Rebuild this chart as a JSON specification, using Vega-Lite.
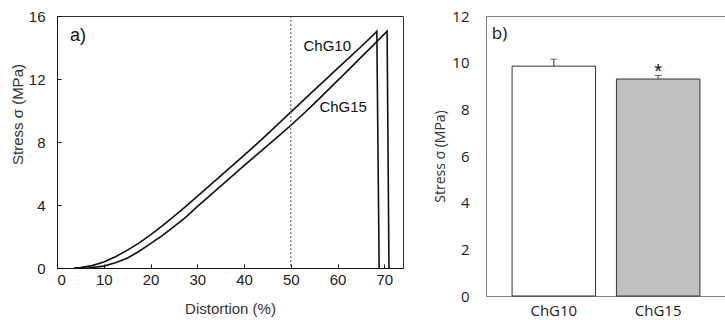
{
  "$schema": "https://vega.github.io/schema/vega-lite/v6.json",
  "background": "white",
  "padding": {"left": 9, "top": 8, "right": 0, "bottom": 0},
  "spacing": 29,
  "datasets": {
    "curves": [
      {"sample": "ChG10", "strain": 3.6, "stress": 0},
      {"sample": "ChG10", "strain": 5, "stress": 0.03},
      {"sample": "ChG10", "strain": 7.5, "stress": 0.15},
      {"sample": "ChG10", "strain": 10, "stress": 0.38},
      {"sample": "ChG10", "strain": 12.5, "stress": 0.72},
      {"sample": "ChG10", "strain": 15, "stress": 1.12},
      {"sample": "ChG10", "strain": 17.5, "stress": 1.58},
      {"sample": "ChG10", "strain": 20, "stress": 2.1},
      {"sample": "ChG10", "strain": 22.5, "stress": 2.68},
      {"sample": "ChG10", "strain": 25, "stress": 3.28},
      {"sample": "ChG10", "strain": 27.5, "stress": 3.9},
      {"sample": "ChG10", "strain": 30, "stress": 4.55},
      {"sample": "ChG10", "strain": 32.5, "stress": 5.2},
      {"sample": "ChG10", "strain": 35, "stress": 5.85},
      {"sample": "ChG10", "strain": 37.5, "stress": 6.5},
      {"sample": "ChG10", "strain": 40, "stress": 7.15},
      {"sample": "ChG10", "strain": 42.5, "stress": 7.82},
      {"sample": "ChG10", "strain": 45, "stress": 8.5},
      {"sample": "ChG10", "strain": 47.5, "stress": 9.2},
      {"sample": "ChG10", "strain": 50, "stress": 9.9},
      {"sample": "ChG10", "strain": 52.5, "stress": 10.6},
      {"sample": "ChG10", "strain": 55, "stress": 11.29},
      {"sample": "ChG10", "strain": 57.5, "stress": 11.98},
      {"sample": "ChG10", "strain": 60, "stress": 12.67},
      {"sample": "ChG10", "strain": 62.5, "stress": 13.36},
      {"sample": "ChG10", "strain": 65, "stress": 14.05},
      {"sample": "ChG10", "strain": 67.5, "stress": 14.75},
      {"sample": "ChG10", "strain": 68.4, "stress": 15.03},
      {"sample": "ChG10", "strain": 68.9, "stress": 0},
      {"sample": "ChG15", "strain": 4.5, "stress": 0},
      {"sample": "ChG15", "strain": 7, "stress": 0.02},
      {"sample": "ChG15", "strain": 10, "stress": 0.12},
      {"sample": "ChG15", "strain": 12.5, "stress": 0.33},
      {"sample": "ChG15", "strain": 15, "stress": 0.62},
      {"sample": "ChG15", "strain": 17.5, "stress": 1.05},
      {"sample": "ChG15", "strain": 20, "stress": 1.55},
      {"sample": "ChG15", "strain": 22.5, "stress": 2.05},
      {"sample": "ChG15", "strain": 25, "stress": 2.62},
      {"sample": "ChG15", "strain": 27.5, "stress": 3.22},
      {"sample": "ChG15", "strain": 30, "stress": 3.9},
      {"sample": "ChG15", "strain": 32.5, "stress": 4.55},
      {"sample": "ChG15", "strain": 35, "stress": 5.2},
      {"sample": "ChG15", "strain": 37.5, "stress": 5.85},
      {"sample": "ChG15", "strain": 40, "stress": 6.5},
      {"sample": "ChG15", "strain": 42.5, "stress": 7.13},
      {"sample": "ChG15", "strain": 45, "stress": 7.77},
      {"sample": "ChG15", "strain": 47.5, "stress": 8.4},
      {"sample": "ChG15", "strain": 50, "stress": 9.05},
      {"sample": "ChG15", "strain": 52.5, "stress": 9.73},
      {"sample": "ChG15", "strain": 55, "stress": 10.44},
      {"sample": "ChG15", "strain": 57.5, "stress": 11.17},
      {"sample": "ChG15", "strain": 60, "stress": 11.9},
      {"sample": "ChG15", "strain": 62.5, "stress": 12.63},
      {"sample": "ChG15", "strain": 65, "stress": 13.37},
      {"sample": "ChG15", "strain": 67.5, "stress": 14.1},
      {"sample": "ChG15", "strain": 70.6, "stress": 15.03},
      {"sample": "ChG15", "strain": 71.0, "stress": 0}
    ],
    "curveLabels": [
      {"text": "ChG10", "strain": 57.8, "stress": 14.1},
      {"text": "ChG15", "strain": 61.2, "stress": 10.2}
    ],
    "bars": [
      {"sample": "ChG10", "stress": 9.85, "upper": 10.15, "mark": ""},
      {"sample": "ChG15", "stress": 9.3, "upper": 9.45, "mark": "*"}
    ]
  },
  "hconcat": [
    {
      "width": 346,
      "height": 252,
      "view": {"stroke": "#333333", "strokeWidth": 1},
      "layer": [
        {
          "data": {"name": "curves"},
          "mark": {"type": "line", "color": "#111111", "strokeWidth": 1.6},
          "encoding": {
            "x": {
              "field": "strain", "type": "quantitative",
              "scale": {"domain": [0, 74], "nice": false},
              "axis": {
                "title": "Distortion (%)",
                "values": [0, 10, 20, 30, 40, 50, 60, 70],
                "tickSize": -4,
                "labelPadding": 8,
                "titlePadding": 14
              }
            },
            "y": {
              "field": "stress", "type": "quantitative",
              "scale": {"domain": [0, 16], "nice": false},
              "axis": {
                "title": "Stress σ (MPa)",
                "values": [0, 4, 8, 12, 16],
                "tickSize": -4,
                "labelPadding": 16,
                "titlePadding": 3,
                "titleY": 98
              }
            },
            "detail": {"field": "sample"}
          }
        },
        {
          "data": {"values": [{"strain": 50}]},
          "mark": {"type": "rule", "color": "#555555", "strokeDash": [2, 2], "strokeWidth": 1},
          "encoding": {"x": {"field": "strain", "type": "quantitative"}}
        },
        {
          "data": {"name": "curveLabels"},
          "mark": {"type": "text", "font": "Liberation Sans", "fontSize": 15, "color": "#111111"},
          "encoding": {
            "x": {"field": "strain", "type": "quantitative"},
            "y": {"field": "stress", "type": "quantitative"},
            "text": {"field": "text"}
          }
        },
        {
          "data": {"values": [{"text": "a)", "strain": 2.8, "stress": 14.7}]},
          "mark": {"type": "text", "font": "Liberation Sans", "fontSize": 18, "align": "left", "color": "#111111"},
          "encoding": {
            "x": {"field": "strain", "type": "quantitative"},
            "y": {"field": "stress", "type": "quantitative"},
            "text": {"field": "text"}
          }
        }
      ]
    },
    {
      "width": 240,
      "height": 280,
      "view": {"stroke": "#808080", "strokeWidth": 1},
      "data": {"name": "bars"},
      "encoding": {
        "x": {
          "field": "sample", "type": "nominal",
          "scale": {"paddingInner": 0.2, "paddingOuter": 0.25},
          "axis": {
            "title": null,
            "labelAngle": 0,
            "ticks": false,
            "domainColor": "#808080",
            "labelFont": "Open Sans",
            "labelFontSize": 15,
            "labelPadding": 7
          }
        }
      },
      "layer": [
        {
          "mark": {"type": "bar", "stroke": "#333333", "strokeWidth": 1},
          "encoding": {
            "y": {
              "field": "stress", "type": "quantitative",
              "scale": {"domain": [0, 12], "nice": false},
              "axis": {
                "title": "Stress σ (MPa)",
                "values": [0, 2, 4, 6, 8, 10, 12],
                "ticks": false,
                "domainColor": "#808080",
                "labelFont": "Open Sans",
                "labelFontSize": 15,
                "labelPadding": 17,
                "titleFont": "Open Sans",
                "titleFontSize": 14,
                "titlePadding": 4
              }
            },
            "fill": {
              "field": "sample", "type": "nominal",
              "scale": {"domain": ["ChG10", "ChG15"], "range": ["#ffffff", "#c0c0c0"]},
              "legend": null
            }
          }
        },
        {
          "mark": {"type": "rule", "color": "#333333", "strokeWidth": 1},
          "encoding": {
            "y": {"field": "stress", "type": "quantitative"},
            "y2": {"field": "upper"}
          }
        },
        {
          "mark": {"type": "tick", "color": "#333333", "thickness": 1, "size": 7},
          "encoding": {
            "y": {"field": "upper", "type": "quantitative"}
          }
        },
        {
          "mark": {"type": "text", "font": "Liberation Sans", "fontSize": 20, "baseline": "alphabetic", "dy": 2, "color": "#111111"},
          "encoding": {
            "y": {"field": "upper", "type": "quantitative"},
            "text": {"field": "mark"}
          }
        },
        {
          "data": {"values": [{"sample": "ChG10", "stress": 11.25, "text": "b)"}]},
          "mark": {"type": "text", "font": "Open Sans", "fontSize": 17, "align": "left", "dx": -62, "color": "#111111"},
          "encoding": {
            "x": {"field": "sample", "type": "nominal"},
            "y": {"field": "stress", "type": "quantitative"},
            "text": {"field": "text"}
          }
        }
      ]
    }
  ],
  "config": {
    "axis": {
      "grid": false,
      "domainColor": "#111111",
      "tickColor": "#111111",
      "labelFont": "Liberation Sans",
      "labelFontSize": 15,
      "labelColor": "#222222",
      "titleFont": "Liberation Sans",
      "titleFontSize": 15,
      "titleFontWeight": "normal",
      "titleColor": "#333333"
    }
  }
}
